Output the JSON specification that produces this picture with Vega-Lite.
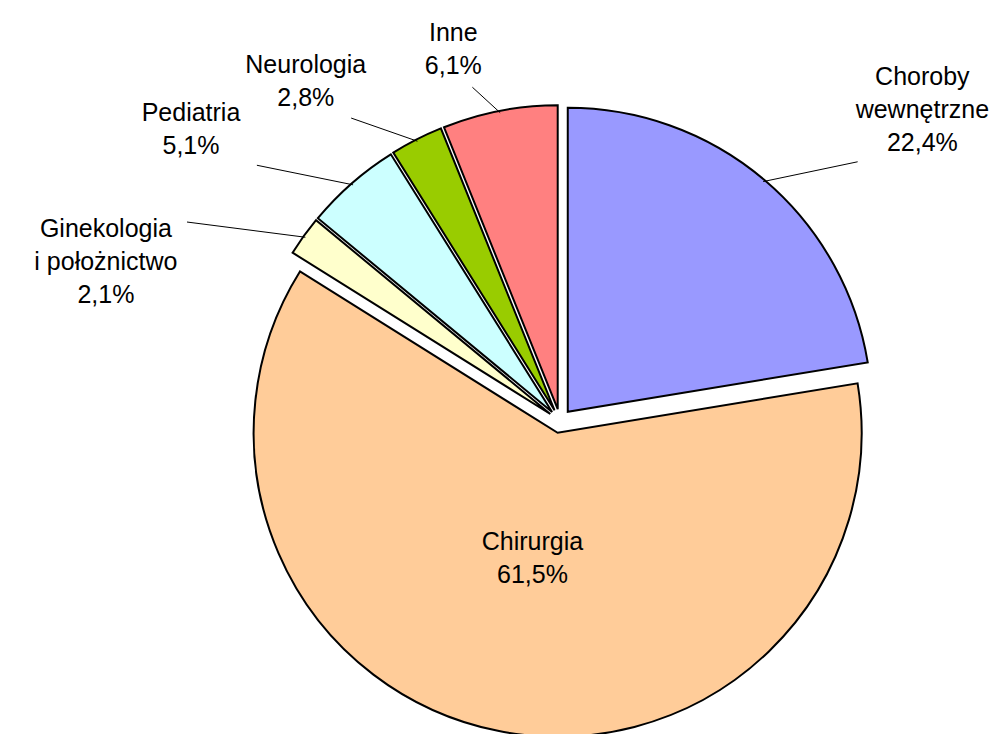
{
  "$schema": "https://vega.github.io/schema/vega-lite/v6.json",
  "width": 874,
  "height": 626,
  "autosize": {"type": "none"},
  "padding": {"left": 123, "top": 108, "right": 0, "bottom": 0},
  "background": "white",
  "config": {"view": {"stroke": null}},
  "data": {
    "values": [
      {"category": "Choroby wewnętrzne", "name": "Choroby\nwewnętrzne", "value": 22.4, "order": 1},
      {"category": "Chirurgia", "name": "Chirurgia", "value": 61.5, "order": 2},
      {"category": "Ginekologia i położnictwo", "name": "Ginekologia\ni położnictwo", "value": 2.1, "order": 3},
      {"category": "Pediatria", "name": "Pediatria", "value": 5.1, "order": 4},
      {"category": "Neurologia", "name": "Neurologia", "value": 2.8, "order": 5},
      {"category": "Inne", "name": "Inne", "value": 6.1, "order": 6}
    ]
  },
  "transform": [
    {"stack": "value", "groupby": [], "sort": [{"field": "order", "order": "ascending"}], "as": ["s0", "s1"]},
    {"calculate": "datum.name + '\\n' + replace(format(datum.value, '.1f'), '.', ',') + '%'", "as": "label"}
  ],
  "layer": [
    {
      "mark": {
        "type": "arc",
        "radius": 304,
        "stroke": "#000000",
        "strokeWidth": 2,
        "strokeJoin": "miter",
        "x": {"expr": "width / 2 + 12 * sin(PI * (datum.s0 + datum.s1) / 100)"},
        "y": {"expr": "height / 2 - 12 * cos(PI * (datum.s0 + datum.s1) / 100)"}
      },
      "encoding": {
        "theta": {"field": "s0", "type": "quantitative", "stack": null, "scale": {"domain": [0, 100]}},
        "theta2": {"field": "s1"},
        "color": {
          "field": "category",
          "type": "nominal",
          "scale": {
            "domain": ["Choroby wewnętrzne", "Chirurgia", "Ginekologia i położnictwo", "Pediatria", "Neurologia", "Inne"],
            "range": ["#9999FF", "#FFCC99", "#FFFFCC", "#CCFFFF", "#99CC00", "#FF8080"]
          },
          "legend": null
        }
      }
    },
    {
      "transform": [{"filter": "datum.value < 30"}],
      "mark": {"type": "rule", "stroke": "#000000", "strokeWidth": 1},
      "encoding": {
        "x": {"value": {"expr": "width / 2 + 314 * sin(PI * (datum.s0 + datum.s1) / 100)"}},
        "y": {"value": {"expr": "height / 2 - 314 * cos(PI * (datum.s0 + datum.s1) / 100)"}},
        "x2": {"value": {"expr": "width / 2 + 460 * sin(PI * (datum.s0 + datum.s1) / 100)"}},
        "y2": {"value": {"expr": "height / 2 - 340 * cos(PI * (datum.s0 + datum.s1) / 100)"}}
      }
    },
    {
      "transform": [{"filter": "datum.value < 30"}],
      "mark": {
        "type": "text",
        "font": "Liberation Sans",
        "fontSize": 25,
        "lineBreak": "\n",
        "lineHeight": 33,
        "align": "center",
        "color": "#000000",
        "baseline": {"expr": "cos(PI * (datum.s0 + datum.s1) / 100) > 0.65 ? 'bottom' : 'top'"},
        "x": {"expr": "width / 2 + 560 * sin(PI * (datum.s0 + datum.s1) / 100)"},
        "y": {"expr": "height / 2 - 348 * cos(PI * (datum.s0 + datum.s1) / 100) - (cos(PI * (datum.s0 + datum.s1) / 100) > 0.65 ? (length(split(datum.label, '\\n')) - 1) * 33 : 0)"}
      },
      "encoding": {"text": {"field": "label", "type": "nominal"}}
    },
    {
      "transform": [{"filter": "datum.value >= 30"}],
      "mark": {
        "type": "text",
        "font": "Liberation Sans",
        "fontSize": 25,
        "lineBreak": "\n",
        "lineHeight": 33,
        "align": "center",
        "baseline": "middle",
        "color": "#000000",
        "x": {"expr": "width / 2 + 140 * sin(PI * (datum.s0 + datum.s1) / 100)"},
        "y": {"expr": "height / 2 - 140 * cos(PI * (datum.s0 + datum.s1) / 100) - (length(split(datum.label, '\\n')) - 1) * 16.5"}
      },
      "encoding": {"text": {"field": "label", "type": "nominal"}}
    }
  ]
}
